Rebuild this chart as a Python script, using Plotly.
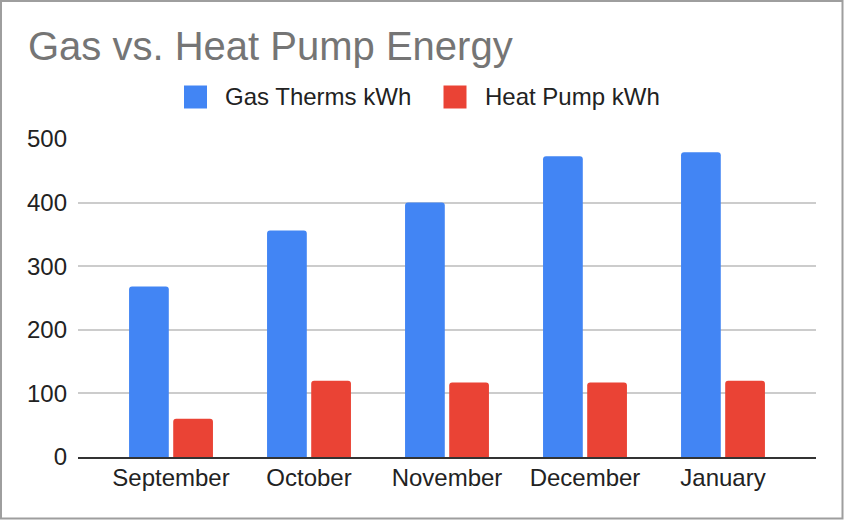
import plotly.graph_objects as go

months = ["September", "October", "November", "December", "January"]
gas_kwh = [268, 356, 400, 473, 479]
heat_pump_kwh = [60, 120, 117, 117, 120]
series_names = ["Gas Therms kWh", "Heat Pump kWh"]
series_colors = ["#4285F4", "#EA4335"]
y_ticks = [0, 100, 200, 300, 400, 500]

W, H = 844, 520
L, R, T, B = 78, 28, 139, 63
PW, PH = W - L - R, H - T - B

def px(x):
    return (x - L) / PW

def py(y):
    return (H - B - y) / PH

FONT = "Arial, Liberation Sans, sans-serif"

fig = go.Figure()
for name, vals, col in zip(series_names, [gas_kwh, heat_pump_kwh], series_colors):
    fig.add_trace(go.Bar(x=months, y=vals, name=name, marker_color=col,
                         marker_line_width=0, showlegend=False))

shapes = []
annotations = []
leg_pos = [(184, 225), (443.5, 485)]
for (sx, tx), name, col in zip(leg_pos, series_names, series_colors):
    shapes.append(dict(type="rect", xref="paper", yref="paper",
                       x0=px(sx), x1=px(sx + 23), y0=py(108.5), y1=py(85.5),
                       fillcolor=col, line_width=0, layer="above"))
    annotations.append(dict(text=name, xref="paper", yref="paper",
                            x=px(tx - 1), y=py(96.5), xanchor="left", yanchor="middle",
                            showarrow=False, borderpad=0,
                            font=dict(family=FONT, size=24, color="#222222")))

# outer frame
shapes.append(dict(type="rect", xref="paper", yref="paper",
                   x0=px(1), x1=px(842.5), y0=py(518.5), y1=py(1),
                   line=dict(color="#9e9e9e", width=2), fillcolor="rgba(0,0,0,0)",
                   layer="above"))

fig.update_layout(
    width=W, height=H,
    margin=dict(l=L, r=R, t=T, b=B, pad=0),
    paper_bgcolor="white", plot_bgcolor="white",
    barmode="group", bargap=0.36, bargroupgap=0.1, barcornerradius=3,
    title=dict(text="Gas vs. Heat Pump Energy", x=28 / W, xanchor="left", xref="container",
               y=1 - 46 / H, yanchor="middle", yref="container",
               font=dict(family=FONT, size=40, color="#757575")),
    font=dict(family=FONT, size=24, color="#222222"),
    shapes=shapes, annotations=annotations,
    xaxis=dict(range=[-0.674, 4.674], showgrid=False, showline=True,
               linecolor="#333333", linewidth=2, ticks="", ticklabelstandoff=-2,
               tickfont=dict(family=FONT, size=24, color="#222222"), fixedrange=True),
    yaxis=dict(range=[0, 500], tickvals=y_ticks, showgrid=True, gridcolor="#cccccc",
               gridwidth=1.5, zeroline=False, showline=False, ticks="",
               ticklabelstandoff=10,
               tickfont=dict(family=FONT, size=24, color="#222222"), fixedrange=True),
)

fig.write_html("out.html")
